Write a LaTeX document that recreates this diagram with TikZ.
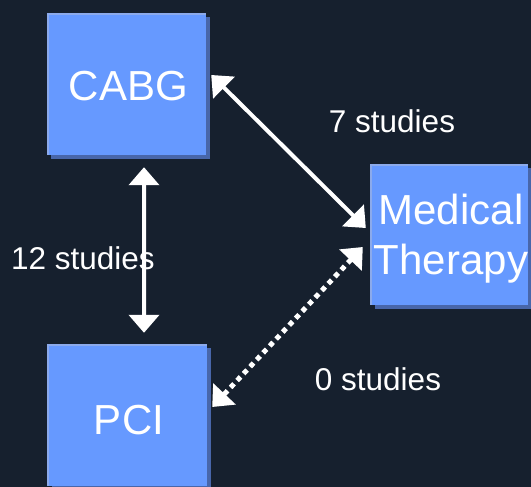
\documentclass[tikz,border=0pt]{standalone}
\usepackage{fontspec}
\setmainfont{Liberation Sans}
\usetikzlibrary{arrows.meta,calc,shadows}

\definecolor{bgnavy}{RGB}{22,32,46}
\definecolor{boxblue}{RGB}{102,153,255}
\definecolor{boxshade}{RGB}{72,102,170}
\definecolor{boxlight}{RGB}{140,170,235}

\tikzset{
  card/.style={
    rectangle, fill=boxblue, inner sep=0pt,
    minimum width=159bp, minimum height=142bp,
    text=white, align=center,
    font=\fontsize{42bp}{50bp}\selectfont,
    drop shadow={shadow xshift=4bp, shadow yshift=-4bp, fill=boxshade, opacity=1},
  },
  rim/.style={draw=boxlight, line width=2bp},
  cardtext/.style={text=white, align=center, inner sep=0pt,
    font=\fontsize{42bp}{50bp}\selectfont},
  tag/.style={text=white, font=\fontsize{31.5bp}{36bp}\selectfont, inner sep=0pt},
  link/.style={draw=white, line width=4bp,
    {Triangle[length=18bp,width=30bp]}-{Triangle[length=18bp,width=30bp]}},
  dotlink/.style={link, line width=5bp, dash pattern=on 5bp off 4.5bp},
}

\begin{document}
\begin{tikzpicture}[x=1bp, y=-1bp]
  % canvas
  \fill[bgnavy] (0,0) rectangle (531,487);
  \useasboundingbox (0,0) rectangle (531,487);

  % treatment boxes
  \node[card] (cabg) at (126.5,84) {};
  \node[card, minimum width=157bp, minimum height=141bp] (mt) at (449,234.5) {};
  \node[card] (pci) at (127,415) {};

  % light rim on the top and left edges
  \foreach \b in {cabg,mt,pci}
    \draw[rim] ($(\b.south west)+(1,0)$) -- ($(\b.north west)+(1,1)$) -- ($(\b.north east)+(0,1)$);

  % box captions
  \node[cardtext] (cabgt) at ($(cabg.center)+(2,2)$) {CABG};
  \node[cardtext] (mtt) at ($(mt.center)+(2,4)$) {Medical\\Therapy};
  \node[cardtext] (pcit) at ($(pci.center)+(2,5)$) {PCI};

  % comparisons between the treatments
  \draw[link] ($(cabg.east)+(5,-9)$) -- ($(mt.west)+(-4.5,-6.5)$);
  \draw[link] ($(cabg.south)+(17.5,12)$) -- ($(pci.north)+(17,-11)$);
  \draw[dotlink] ($(mt.west)+(-7.5,12.5)$) -- ($(pci.east)+(5.5,-8)$);

  % study counts
  \node[tag] (l7) at (392,121) {7 studies};
  \node[tag] (l12) at (83,258) {12 studies};
  \node[tag] (l0) at (378,379) {0 studies};
\end{tikzpicture}
\end{document}
